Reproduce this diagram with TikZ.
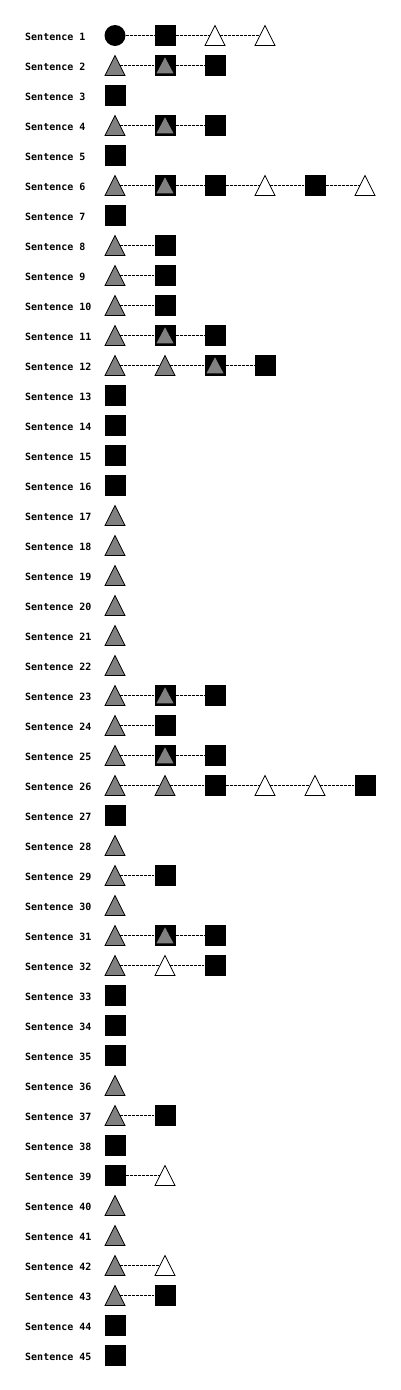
\documentclass[tikz,border=0pt]{standalone}
\usepackage{fontspec}
\newfontfamily\sentfont{DejaVu Sans Mono}
\usetikzlibrary{shapes.geometric}

\begin{document}
\begin{tikzpicture}[
  x=1pt,y=-1pt,
  lbl/.style={font=\sentfont\bfseries\fontsize{10}{12}\selectfont,
              anchor=base west,inner sep=0pt},
  sq/.style={rectangle,fill=black,minimum size=21pt,inner sep=0pt},
  dot/.style={circle,fill=black,minimum size=21pt,inner sep=0pt},
  tri/.style={isosceles triangle,shape border rotate=90,
              isosceles triangle stretches,minimum width=20pt,
              minimum height=20pt,inner sep=0pt,outer sep=0pt,
              draw=black,line width=0.8pt,anchor=lower side,yshift=-10pt},
  gtri/.style={tri,fill=gray},
  wtri/.style={tri,fill=white},
  sqtri/.style={sq,path picture={\fill[gray]
      ([shift={(-8.5pt,-7.8pt)}]path picture bounding box.center) --
      ([shift={(0pt,8.2pt)}]path picture bounding box.center) --
      ([shift={(8.5pt,-7.8pt)}]path picture bounding box.center) -- cycle;}},
  link/.style={dash pattern=on 3pt off 1pt,line width=0.8pt}
]
\useasboundingbox (0,0) rectangle (400,1390);

% sentence 1
\node[lbl] (s1) at (25,40) {Sentence 1};
\node[dot] (s1a) at (115,35.5) {};
\node[sq] (s1b) at (165,35.5) {};
\node[wtri] (s1c) at (215,35.5) {};
\node[wtri] (s1d) at (265,35.5) {};
\draw[link] (s1a) -- (s1b) -- (s1c.left side) (s1c.right side) -- (s1d.left side);

% sentence 2
\node[lbl] (s2) at (25,70) {Sentence 2};
\node[gtri] (s2a) at (115,65.5) {};
\node[sqtri] (s2b) at (165,65.5) {};
\node[sq] (s2c) at (215,65.5) {};
\draw[link] (s2a.right side) -- (s2b) -- (s2c);

% sentence 3
\node[lbl] (s3) at (25,100) {Sentence 3};
\node[sq] (s3a) at (115,95.5) {};

% sentence 4
\node[lbl] (s4) at (25,130) {Sentence 4};
\node[gtri] (s4a) at (115,125.5) {};
\node[sqtri] (s4b) at (165,125.5) {};
\node[sq] (s4c) at (215,125.5) {};
\draw[link] (s4a.right side) -- (s4b) -- (s4c);

% sentence 5
\node[lbl] (s5) at (25,160) {Sentence 5};
\node[sq] (s5a) at (115,155.5) {};

% sentence 6
\node[lbl] (s6) at (25,190) {Sentence 6};
\node[gtri] (s6a) at (115,185.5) {};
\node[sqtri] (s6b) at (165,185.5) {};
\node[sq] (s6c) at (215,185.5) {};
\node[wtri] (s6d) at (265,185.5) {};
\node[sq] (s6e) at (315,185.5) {};
\node[wtri] (s6f) at (365,185.5) {};
\draw[link] (s6a.right side) -- (s6b) -- (s6c) -- (s6d.left side)
  (s6d.right side) -- (s6e) -- (s6f.left side);

% sentence 7
\node[lbl] (s7) at (25,220) {Sentence 7};
\node[sq] (s7a) at (115,215.5) {};

% sentences 8-10
\node[lbl] (s8) at (25,250) {Sentence 8};
\node[gtri] (s8a) at (115,245.5) {};
\node[sq] (s8b) at (165,245.5) {};
\draw[link] (s8a.right side) -- (s8b);
\node[lbl] (s9) at (25,280) {Sentence 9};
\node[gtri] (s9a) at (115,275.5) {};
\node[sq] (s9b) at (165,275.5) {};
\draw[link] (s9a.right side) -- (s9b);
\node[lbl] (s10) at (25,310) {Sentence 10};
\node[gtri] (s10a) at (115,305.5) {};
\node[sq] (s10b) at (165,305.5) {};
\draw[link] (s10a.right side) -- (s10b);

% sentence 11
\node[lbl] (s11) at (25,340) {Sentence 11};
\node[gtri] (s11a) at (115,335.5) {};
\node[sqtri] (s11b) at (165,335.5) {};
\node[sq] (s11c) at (215,335.5) {};
\draw[link] (s11a.right side) -- (s11b) -- (s11c);

% sentence 12
\node[lbl] (s12) at (25,370) {Sentence 12};
\node[gtri] (s12a) at (115,365.5) {};
\node[gtri] (s12b) at (165,365.5) {};
\node[sqtri] (s12c) at (215,365.5) {};
\node[sq] (s12d) at (265,365.5) {};
\draw[link] (s12a.right side) -- (s12b.left side) (s12b.right side) -- (s12c) -- (s12d);

% sentences 13-16
\node[lbl] (s13) at (25,400) {Sentence 13};
\node[sq] (s13a) at (115,395.5) {};
\node[lbl] (s14) at (25,430) {Sentence 14};
\node[sq] (s14a) at (115,425.5) {};
\node[lbl] (s15) at (25,460) {Sentence 15};
\node[sq] (s15a) at (115,455.5) {};
\node[lbl] (s16) at (25,490) {Sentence 16};
\node[sq] (s16a) at (115,485.5) {};

% sentences 17-22
\node[lbl] (s17) at (25,520) {Sentence 17};
\node[gtri] (s17a) at (115,515.5) {};
\node[lbl] (s18) at (25,550) {Sentence 18};
\node[gtri] (s18a) at (115,545.5) {};
\node[lbl] (s19) at (25,580) {Sentence 19};
\node[gtri] (s19a) at (115,575.5) {};
\node[lbl] (s20) at (25,610) {Sentence 20};
\node[gtri] (s20a) at (115,605.5) {};
\node[lbl] (s21) at (25,640) {Sentence 21};
\node[gtri] (s21a) at (115,635.5) {};
\node[lbl] (s22) at (25,670) {Sentence 22};
\node[gtri] (s22a) at (115,665.5) {};

% sentence 23
\node[lbl] (s23) at (25,700) {Sentence 23};
\node[gtri] (s23a) at (115,695.5) {};
\node[sqtri] (s23b) at (165,695.5) {};
\node[sq] (s23c) at (215,695.5) {};
\draw[link] (s23a.right side) -- (s23b) -- (s23c);

% sentence 24
\node[lbl] (s24) at (25,730) {Sentence 24};
\node[gtri] (s24a) at (115,725.5) {};
\node[sq] (s24b) at (165,725.5) {};
\draw[link] (s24a.right side) -- (s24b);

% sentence 25
\node[lbl] (s25) at (25,760) {Sentence 25};
\node[gtri] (s25a) at (115,755.5) {};
\node[sqtri] (s25b) at (165,755.5) {};
\node[sq] (s25c) at (215,755.5) {};
\draw[link] (s25a.right side) -- (s25b) -- (s25c);

% sentence 26
\node[lbl] (s26) at (25,790) {Sentence 26};
\node[gtri] (s26a) at (115,785.5) {};
\node[gtri] (s26b) at (165,785.5) {};
\node[sq] (s26c) at (215,785.5) {};
\node[wtri] (s26d) at (265,785.5) {};
\node[wtri] (s26e) at (315,785.5) {};
\node[sq] (s26f) at (365,785.5) {};
\draw[link] (s26a.right side) -- (s26b.left side) (s26b.right side) -- (s26c)
  -- (s26d.left side) (s26d.right side) -- (s26e.left side)
  (s26e.right side) -- (s26f);

% sentences 27-30
\node[lbl] (s27) at (25,820) {Sentence 27};
\node[sq] (s27a) at (115,815.5) {};
\node[lbl] (s28) at (25,850) {Sentence 28};
\node[gtri] (s28a) at (115,845.5) {};
\node[lbl] (s29) at (25,880) {Sentence 29};
\node[gtri] (s29a) at (115,875.5) {};
\node[sq] (s29b) at (165,875.5) {};
\draw[link] (s29a.right side) -- (s29b);
\node[lbl] (s30) at (25,910) {Sentence 30};
\node[gtri] (s30a) at (115,905.5) {};

% sentence 31
\node[lbl] (s31) at (25,940) {Sentence 31};
\node[gtri] (s31a) at (115,935.5) {};
\node[sqtri] (s31b) at (165,935.5) {};
\node[sq] (s31c) at (215,935.5) {};
\draw[link] (s31a.right side) -- (s31b) -- (s31c);

% sentence 32
\node[lbl] (s32) at (25,970) {Sentence 32};
\node[gtri] (s32a) at (115,965.5) {};
\node[wtri] (s32b) at (165,965.5) {};
\node[sq] (s32c) at (215,965.5) {};
\draw[link] (s32a.right side) -- (s32b.left side) (s32b.right side) -- (s32c);

% sentences 33-38
\node[lbl] (s33) at (25,1000) {Sentence 33};
\node[sq] (s33a) at (115,995.5) {};
\node[lbl] (s34) at (25,1030) {Sentence 34};
\node[sq] (s34a) at (115,1025.5) {};
\node[lbl] (s35) at (25,1060) {Sentence 35};
\node[sq] (s35a) at (115,1055.5) {};
\node[lbl] (s36) at (25,1090) {Sentence 36};
\node[gtri] (s36a) at (115,1085.5) {};
\node[lbl] (s37) at (25,1120) {Sentence 37};
\node[gtri] (s37a) at (115,1115.5) {};
\node[sq] (s37b) at (165,1115.5) {};
\draw[link] (s37a.right side) -- (s37b);
\node[lbl] (s38) at (25,1150) {Sentence 38};
\node[sq] (s38a) at (115,1145.5) {};

% sentences 39-45
\node[lbl] (s39) at (25,1180) {Sentence 39};
\node[sq] (s39a) at (115,1175.5) {};
\node[wtri] (s39b) at (165,1175.5) {};
\draw[link] (s39a) -- (s39b.left side);
\node[lbl] (s40) at (25,1210) {Sentence 40};
\node[gtri] (s40a) at (115,1205.5) {};
\node[lbl] (s41) at (25,1240) {Sentence 41};
\node[gtri] (s41a) at (115,1235.5) {};
\node[lbl] (s42) at (25,1270) {Sentence 42};
\node[gtri] (s42a) at (115,1265.5) {};
\node[wtri] (s42b) at (165,1265.5) {};
\draw[link] (s42a.right side) -- (s42b.left side);
\node[lbl] (s43) at (25,1300) {Sentence 43};
\node[gtri] (s43a) at (115,1295.5) {};
\node[sq] (s43b) at (165,1295.5) {};
\draw[link] (s43a.right side) -- (s43b);
\node[lbl] (s44) at (25,1330) {Sentence 44};
\node[sq] (s44a) at (115,1325.5) {};
\node[lbl] (s45) at (25,1360) {Sentence 45};
\node[sq] (s45a) at (115,1355.5) {};
\end{tikzpicture}
\end{document}
